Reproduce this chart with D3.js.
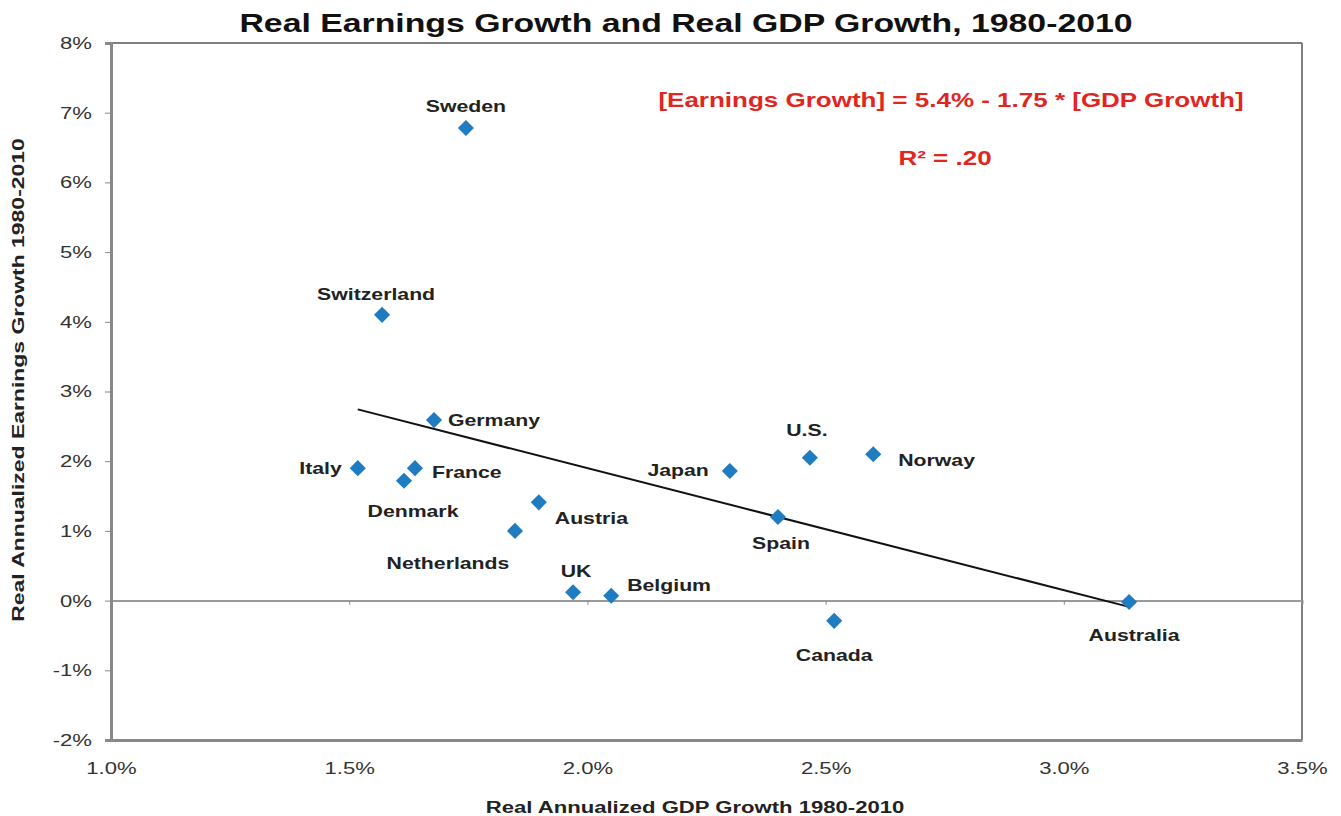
<!DOCTYPE html>
<html lang="en">
<head>
<meta charset="UTF-8">
<title>Real Earnings Growth and Real GDP Growth</title>
<script src="https://cdn.jsdelivr.net/npm/d3@7"></script>
<style>
    body { margin: 0; background: #fff; }
    svg text { font-family: "Liberation Sans", Arial, sans-serif; }
    .tick text { font-size: 17px; fill: #333; }
    .lbl { font-size: 17px; font-weight: bold; fill: #222; }
</style>
</head>
<body>
<svg id="chart" width="1341" height="816"></svg>
<script>
    // data (% per year)
    var countries = ['Sweden', 'Switzerland', 'Germany', 'Italy', 'France', 'Denmark', 'Austria', 'Netherlands',
        'UK', 'Belgium', 'Japan', 'U.S.', 'Norway', 'Spain', 'Canada', 'Australia']
    var gdpGrowth = [1.745, 1.569, 1.678, 1.518, 1.638, 1.615, 1.898, 1.848,
        1.970, 2.050, 2.299, 2.467, 2.600, 2.400, 2.518, 3.137]
    var earningsGrowth = [6.78, 4.10, 2.59, 1.90, 1.90, 1.72, 1.41, 1.00,
        0.12, 0.07, 1.86, 2.05, 2.10, 1.20, -0.29, -0.02]
    var xTicks = [1.0, 1.5, 2.0, 2.5, 3.0, 3.5]
    var yTicks = [-2, -1, 0, 1, 2, 3, 4, 5, 6, 7, 8]
    var fitIntercept = 5.4
    var fitSlope = -1.75

    // label placement: [dx, dy, anchor]
    var labelPos = {
        'Sweden': [0, -22, 'middle'],
        'Switzerland': [-6, -21, 'middle'],
        'Germany': [14, 0, 'start'],
        'Italy': [-16, 0, 'end'],
        'France': [17, 4, 'start'],
        'Denmark': [9, 30, 'middle'],
        'Austria': [16, 16, 'start'],
        'Netherlands': [-67, 32, 'middle'],
        'UK': [3, -21, 'middle'],
        'Belgium': [16, -11, 'start'],
        'Japan': [-21, -1, 'end'],
        'U.S.': [-3, -28, 'middle'],
        'Norway': [25, 6, 'start'],
        'Spain': [3, 26, 'middle'],
        'Canada': [0, 34, 'middle'],
        'Australia': [5, 33, 'middle']
    }

    // the source picture is stretched sideways, so text gets a wider x scale
    var SX = 1.3

    var svg = d3.select('#chart')
    var plotLeft = 111, plotRight = 1302, plotTop = 43, plotBottom = 740

    var x = d3.scaleLinear().domain([1.0, 3.5]).range([plotLeft, plotRight])
    var y = d3.scaleLinear().domain([-2, 8]).range([plotBottom, plotTop])

    function wideText (px, py, str, size, color, anchor) {
        return svg.append('text')
            .attr('transform', 'translate(' + px + ',' + py + ') scale(' + SX + ',1)')
            .attr('text-anchor', anchor || 'middle')
            .style('font-size', size + 'px').style('font-weight', 'bold')
            .attr('fill', color)
            .text(str)
    }

    // title
    wideText(686, 32, 'Real Earnings Growth and Real GDP Growth, 1980-2010', 26, '#111')

    // frame top/right
    svg.append('line').attr('x1', plotLeft).attr('x2', plotRight).attr('y1', plotTop).attr('y2', plotTop)
        .attr('stroke', '#555').attr('stroke-width', 1.5)
    svg.append('line').attr('x1', plotRight).attr('x2', plotRight).attr('y1', plotTop).attr('y2', plotBottom)
        .attr('stroke', '#555').attr('stroke-width', 1.5)

    // zero line with x ticks on it
    var xAxisZero = d3.axisBottom(x).tickValues(xTicks).tickSize(4).tickFormat('')
    svg.append('g').attr('transform', 'translate(0,' + y(0) + ')').call(xAxisZero)
        .call(function (g) {
            g.select('.domain').attr('stroke', '#999').attr('stroke-width', 2)
            g.selectAll('.tick line').attr('stroke', '#888')
        })

    // bottom axis (labels)
    var xAxis = d3.axisBottom(x).tickValues(xTicks).tickSize(0)
        .tickFormat(function (d) { return d.toFixed(1) + '%' })
    svg.append('g').attr('transform', 'translate(0,' + plotBottom + ')').call(xAxis)
        .call(function (g) {
            g.select('.domain').attr('stroke', '#888').attr('stroke-width', 3)
            g.selectAll('.tick text').attr('y', 0)
                .attr('transform', 'translate(0,22) scale(' + SX + ',1)')
        })

    // left axis
    var yAxis = d3.axisLeft(y).tickValues(yTicks).tickSize(6)
        .tickFormat(function (d) { return d + '%' })
    svg.append('g').attr('transform', 'translate(' + plotLeft + ',0)').call(yAxis)
        .call(function (g) {
            g.select('.domain').attr('stroke', '#888').attr('stroke-width', 3)
            g.selectAll('.tick line').attr('stroke', '#888')
            g.selectAll('.tick text').attr('x', 0)
                .attr('transform', 'translate(-19,0) scale(' + SX + ',1)')
        })

    // axis titles
    wideText(695, 813, 'Real Annualized GDP Growth 1980-2010', 17, '#222')
    svg.append('text').attr('transform', 'translate(24,380) rotate(-90) scale(1.35,1)').attr('text-anchor', 'middle')
        .style('font-size', '17px').style('font-weight', 'bold').attr('fill', '#222')
        .text('Real Annualized Earnings Growth 1980-2010')

    // regression line
    var xMin = d3.min(gdpGrowth), xMax = d3.max(gdpGrowth)
    var line = d3.line().x(function (d) { return x(d) }).y(function (d) { return y(fitIntercept + fitSlope * d) })
    svg.append('path').datum([xMin, xMax]).attr('d', line)
        .attr('fill', 'none').attr('stroke', '#111').attr('stroke-width', 2)

    // points
    var pts = countries.map(function (c, i) { return { name: c, gx: gdpGrowth[i], ey: earningsGrowth[i] } })
    var diamond = d3.symbol().type(d3.symbolSquare).size(130)
    svg.append('g').selectAll('path').data(pts).join('path')
        .attr('d', diamond)
        .attr('transform', function (d) { return 'translate(' + x(d.gx) + ',' + y(d.ey) + ') rotate(45)' })
        .attr('fill', '#1f7cc1')

    svg.append('g').selectAll('text').data(pts).join('text')
        .attr('class', 'lbl')
        .attr('transform', function (d) {
            var p = labelPos[d.name]
            return 'translate(' + (x(d.gx) + p[0]) + ',' + (y(d.ey) + p[1]) + ') scale(1.25,1)'
        })
        .attr('dy', '0.35em')
        .attr('text-anchor', function (d) { return labelPos[d.name][2] })
        .text(function (d) { return d.name })

    // equation
    wideText(951, 107, '[Earnings Growth] = 5.4% - 1.75 * [GDP Growth]', 20, '#e0261f')
    wideText(945, 165, 'R² = .20', 20, '#e0261f')
</script>
</body>
</html>
